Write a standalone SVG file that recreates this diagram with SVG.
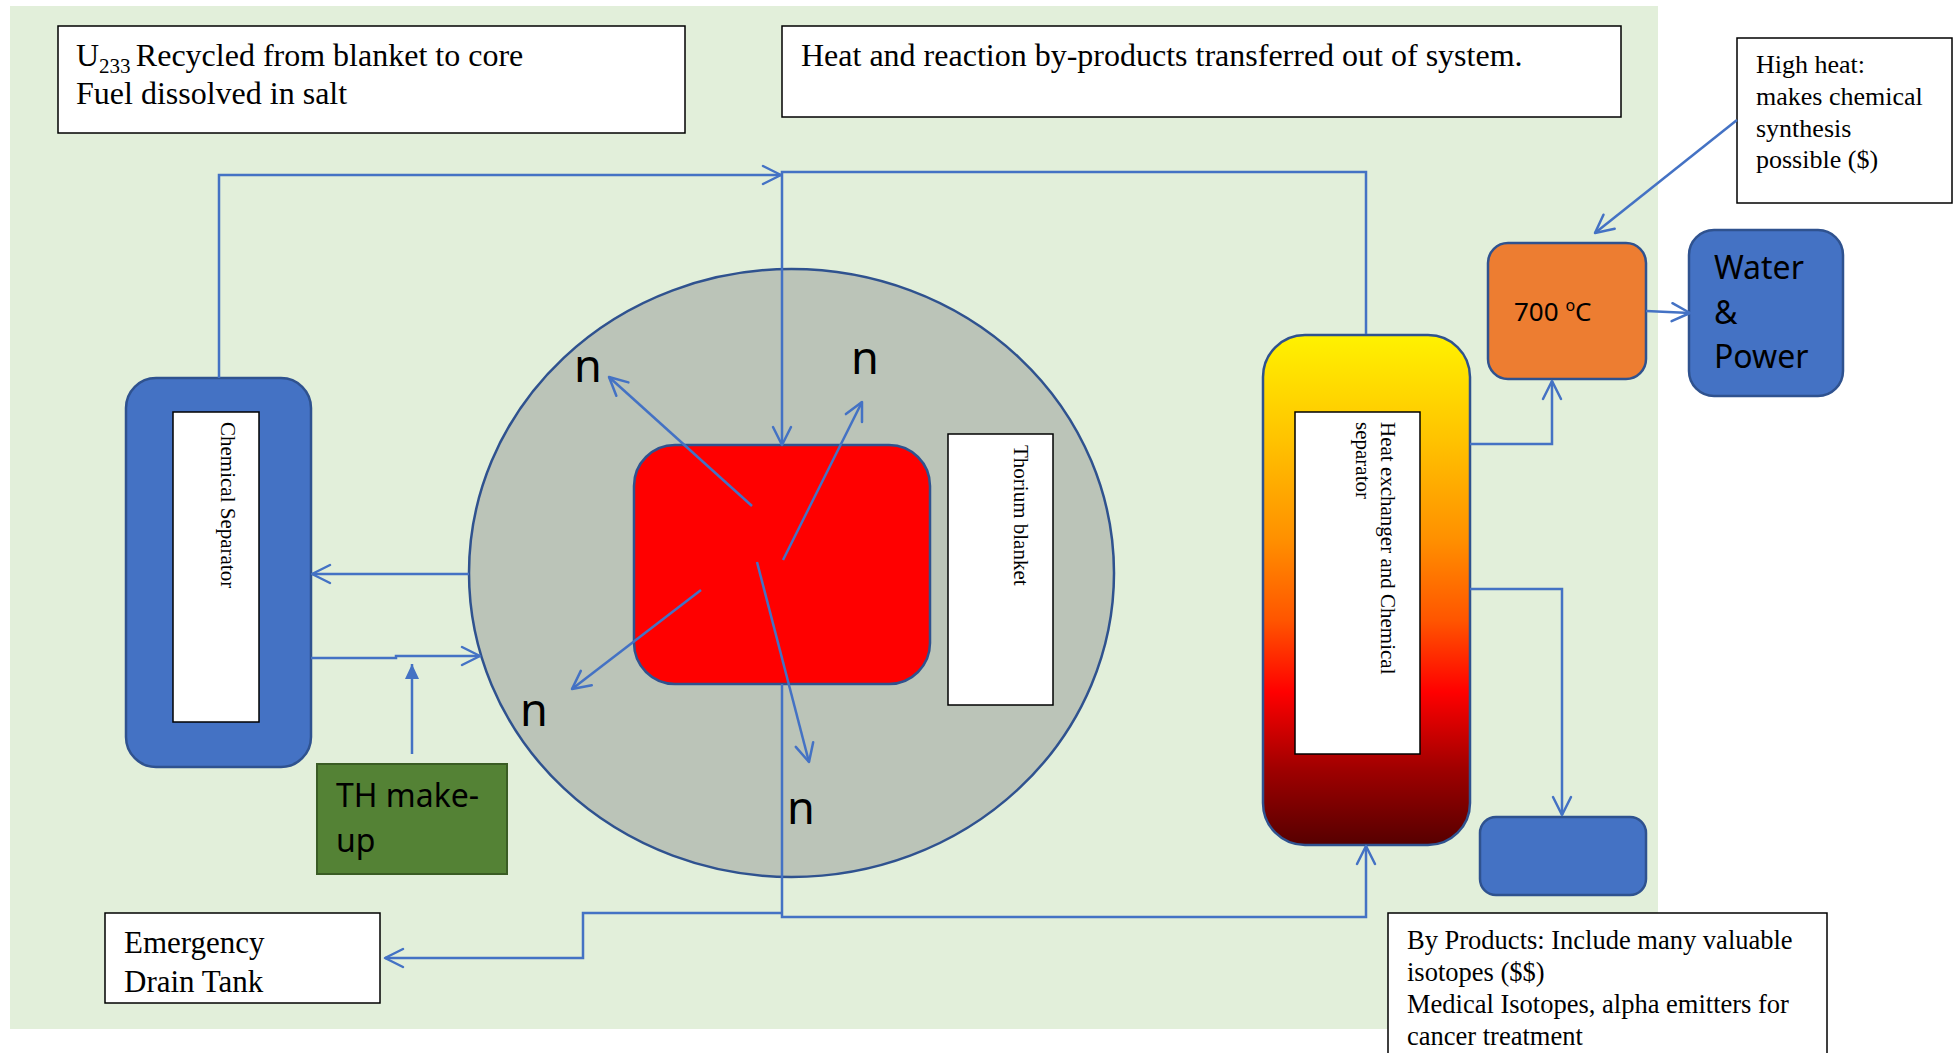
<svg xmlns="http://www.w3.org/2000/svg" width="1956" height="1053" viewBox="0 0 1956 1053">
<style>
.conn{fill:none;stroke:#4472C4;stroke-width:2.5}
.box{fill:#FFFFFF;stroke:#000000;stroke-width:1.5}
.serif{font-family:"Liberation Serif","Times New Roman",serif;fill:#000000}
.sans{font-family:"Noto Sans","Liberation Sans",sans-serif;fill:#000000}
.shape{stroke:#2F528F;stroke-width:2.5}
</style>
<defs>
<marker id="arr" viewBox="-22 -12 26 24" refX="0" refY="0" markerWidth="26" markerHeight="24" markerUnits="userSpaceOnUse" orient="auto">
<path d="M-18,-9 L0,0 L-18,9" fill="none" stroke="#4472C4" stroke-width="2.5" stroke-linejoin="round" stroke-linecap="round"/>
</marker>
<marker id="tri" viewBox="-16 -8 18 16" refX="0" refY="0" markerWidth="18" markerHeight="16" markerUnits="userSpaceOnUse" orient="auto">
<path d="M-15,-7 L0,0 L-15,7 Z" fill="#4472C4"/>
</marker>
<linearGradient id="hxgrad" x1="0" y1="0" x2="0" y2="1">
<stop offset="0" stop-color="#FFF200"/>
<stop offset="0.2" stop-color="#FFC400"/>
<stop offset="0.4" stop-color="#FF9000"/>
<stop offset="0.56" stop-color="#FF5500"/>
<stop offset="0.7" stop-color="#FF0000"/>
<stop offset="0.85" stop-color="#A00000"/>
<stop offset="1" stop-color="#560000"/>
</linearGradient>
</defs>

<rect id="background" x="10" y="6" width="1648" height="1023" fill="#E2EFDA"/>

<g id="blanket">
<ellipse cx="791.5" cy="573" rx="322.5" ry="304" fill="#BBC4B8" class="shape"/>
</g>
<g id="core">
<rect x="634" y="445" width="296" height="239" rx="41" ry="41" fill="#FF0000" class="shape"/>
</g>
<g id="thorium-label">
<rect x="948" y="434" width="105" height="271" class="box"/>
<text class="serif" font-size="21" transform="translate(1014,445) rotate(90)">Thorium blanket</text>
</g>

<g id="chemical-separator">
<rect x="126" y="378" width="185" height="389" rx="30" ry="30" fill="#4472C4" class="shape"/>
<rect x="173" y="412" width="86" height="310" class="box"/>
<text class="serif" font-size="21" transform="translate(221,422) rotate(90)">Chemical Separator</text>
</g>

<g id="th-makeup">
<rect x="317" y="764" width="190" height="110" fill="#548235" stroke="#3A5C24" stroke-width="2"/>
<text class="sans" font-size="32"><tspan x="336" y="807">TH make-</tspan><tspan x="336" y="852">up</tspan></text>
</g>

<g id="heat-exchanger">
<rect x="1263" y="335" width="207" height="510" rx="42" ry="42" fill="url(#hxgrad)" class="shape"/>
<rect x="1295" y="412" width="125" height="342" class="box"/>
<text class="serif" font-size="21" transform="translate(1381,422) rotate(90)"><tspan x="0" y="0">Heat exchanger and Chemical</tspan><tspan x="0" y="25">separator</tspan></text>
</g>

<g id="temp-700">
<rect x="1488" y="243" width="158" height="136" rx="20" ry="20" fill="#ED7D31" class="shape"/>
<text class="sans" font-size="26" x="1514" y="321">700 <tspan font-size="16" dy="-10">o</tspan><tspan dy="10">C</tspan></text>
</g>

<g id="water-power">
<rect x="1689" y="230" width="154" height="166" rx="25" ry="25" fill="#4472C4" class="shape"/>
<text class="sans" font-size="32"><tspan x="1714" y="279">Water</tspan><tspan x="1714" y="324">&amp;</tspan><tspan x="1714" y="368">Power</tspan></text>
</g>

<g id="byproduct-tank">
<rect x="1480" y="817" width="166" height="78" rx="16" ry="16" fill="#4472C4" class="shape"/>
</g>

<g id="note-u233">
<rect x="58" y="26" width="627" height="107" class="box"/>
<text class="serif" font-size="32"><tspan x="76" y="66">U</tspan><tspan font-size="21" dy="7">233 </tspan><tspan dy="-7">Recycled from blanket to core</tspan></text>
<text class="serif" font-size="32" x="76" y="104">Fuel dissolved in salt</text>
</g>

<g id="note-heat">
<rect x="782" y="26" width="839" height="91" class="box"/>
<text class="serif" font-size="32" x="801" y="66">Heat and reaction by-products transferred out of system.</text>
</g>

<g id="note-high-heat">
<rect x="1737" y="38" width="215" height="165" class="box"/>
<text class="serif" font-size="26"><tspan x="1756" y="73">High heat:</tspan><tspan x="1756" y="105">makes chemical</tspan><tspan x="1756" y="137">synthesis</tspan><tspan x="1756" y="168">possible ($)</tspan></text>
</g>

<g id="emergency-drain-tank">
<rect x="105" y="913" width="275" height="90" class="box"/>
<text class="serif" font-size="31"><tspan x="124" y="953">Emergency</tspan><tspan x="124" y="992">Drain Tank</tspan></text>
</g>

<g id="note-byproducts">
<rect x="1388" y="913" width="439" height="150" class="box"/>
<text class="serif" font-size="26.5"><tspan x="1407" y="949">By Products: Include many valuable</tspan><tspan x="1407" y="981">isotopes ($$)</tspan><tspan x="1407" y="1013">Medical Isotopes, alpha emitters for</tspan><tspan x="1407" y="1045">cancer treatment</tspan></text>
</g>

<g id="connectors">
<path class="conn" d="M219,378 V175 H781" marker-end="url(#arr)"/>
<path class="conn" d="M1366,334 V172 H782 V445" marker-end="url(#arr)"/>
<path class="conn" d="M469,574 H312" marker-end="url(#arr)"/>
<path class="conn" d="M311,658 H396 V656 H480" marker-end="url(#arr)"/>
<path class="conn" d="M412,754 V664" marker-end="url(#tri)"/>
<path class="conn" d="M782,684 V917 H1366 V846" marker-end="url(#arr)"/>
<path class="conn" d="M782,913 H583 V958 H385" marker-end="url(#arr)"/>
<path class="conn" d="M1470,444 H1552 V381" marker-end="url(#arr)"/>
<path class="conn" d="M1470,589 H1562 V815" marker-end="url(#arr)"/>
<path class="conn" d="M1646,311 L1690,313" marker-end="url(#arr)"/>
<path class="conn" d="M1737,120 L1595,233" marker-end="url(#arr)"/>
<path class="conn" d="M752,506 L609,377" marker-end="url(#arr)"/>
<path class="conn" d="M783,560 L862,402" marker-end="url(#arr)"/>
<path class="conn" d="M701,590 L572,689" marker-end="url(#arr)"/>
<path class="conn" d="M757,562 L809,762" marker-end="url(#arr)"/>
</g>

<g id="neutron-labels">
<text class="sans" font-size="45" x="574" y="382">n</text>
<text class="sans" font-size="45" x="851" y="374">n</text>
<text class="sans" font-size="45" x="520" y="726">n</text>
<text class="sans" font-size="45" x="787" y="824">n</text>
</g>
</svg>
